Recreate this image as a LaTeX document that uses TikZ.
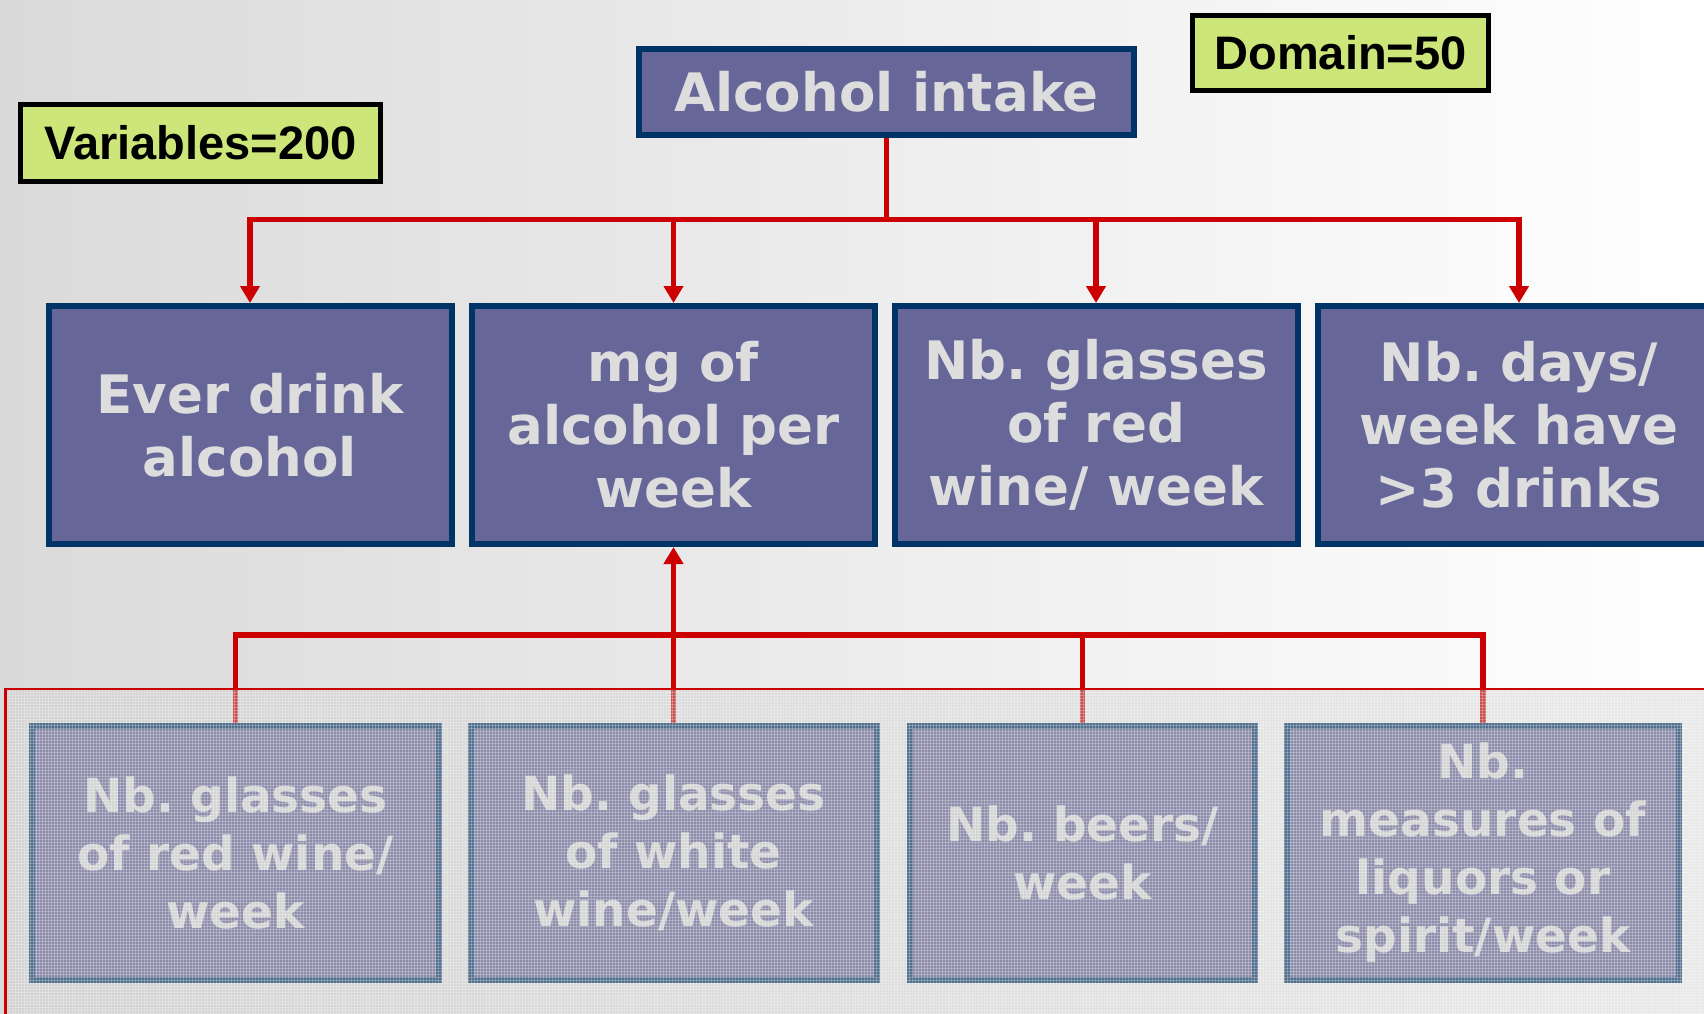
\documentclass[tikz,border=0pt]{standalone}
\usepackage{fontspec}
\setmainfont{DejaVu Sans}
\newfontfamily\arialfont{Liberation Sans}
\usetikzlibrary{arrows.meta,patterns}
\frenchspacing
\definecolor{boxfill}{HTML}{666699}
\definecolor{boxline}{HTML}{003366}
\definecolor{boxtext}{HTML}{DDDDDD}
\definecolor{connred}{HTML}{CC0000}
\definecolor{tagfill}{HTML}{CCE67A}
\definecolor{bgleft}{HTML}{DADADA}
\definecolor{veil}{HTML}{C8C8C8}
\begin{document}
\begin{tikzpicture}[x=1pt,y=-1pt,
  box/.style={draw=boxline, line width=6pt, fill=boxfill, text=boxtext,
    font=\bfseries\fontsize{53}{63}\selectfont, align=center, inner sep=0pt},
  lowbox/.style={box, font=\bfseries\fontsize{47}{58}\selectfont, minimum height=254pt},
  midbox/.style={box, minimum width=403pt, minimum height=238pt},
  tag/.style={draw=black, line width=5pt, fill=tagfill, text=black,
    font=\arialfont\bfseries\fontsize{47}{56}\selectfont, inner sep=0pt},
  conn/.style={draw=connred, line width=5.5pt, line join=miter},
  arr/.style={conn, -{Triangle[width=19pt,length=17pt]}}
]
\useasboundingbox (0,0) rectangle (1704,1013);
\clip (0,0) rectangle (1704,1013);
\shade[left color=bgleft, right color=white] (0,0) rectangle (1704,1013);

% tags
\node[tag, minimum width=360pt, minimum height=77pt] (vars) at (200.5,143) {Variables=200};
\node[tag, minimum width=296pt, minimum height=75pt] (dom) at (1340.5,53) {Domain=50};

% top
\node[box, minimum width=495pt, minimum height=86pt] (top) at (886.5,92) {Alcohol intake};

% middle row
\node[midbox] (m1) at (250,425) {Ever drink\\alcohol};
\node[midbox] (m2) at (673.5,425) {mg of\\alcohol per\\week};
\node[midbox] (m3) at (1096,425) {Nb. glasses\\of red\\wine/ week};
\node[midbox] (m4) at (1519,425) {Nb. days/\\week have\\>3 drinks};

% bottom row
\node[lowbox, minimum width=407pt] (b1) at (235.5,852.5) {Nb. glasses\\of red wine/\\week};
\node[lowbox, minimum width=406pt] (b2) at (673.5,852.5) {Nb. glasses\\of white\\wine/week};
\node[lowbox, minimum width=345pt] (b3) at (1082.5,852.5) {Nb. beers/\\week};
\node[lowbox, minimum width=392pt] (b4) at (1483,852.5) {Nb.\\measures of\\liquors or\\spirit/week};

% top connectors
\coordinate (busT) at (886.5,219.5);
\draw[conn] (top.south) -- (busT);
\draw[arr] (busT) -| (m1.north);
\draw[arr] (busT) -| (m2.north);
\draw[arr] (busT) -| (m3.north);
\draw[arr] (busT) -| (m4.north);

% bottom connectors
\coordinate (busB) at (673.5,635);
\draw[conn] (b1.north) |- (busB);
\draw[conn] (b3.north) |- (busB);
\draw[conn] (b4.north) |- (busB);
\draw[arr] (b2.north) -- (m2.south);

% faded overlay on the lower area
\fill[veil, opacity=0.4] (5.5,689) rectangle (1720,1030);
\fill[pattern=grid, pattern color=white, opacity=0.25] (5.5,689) rectangle (1720,1030);
\draw[connred, line width=2.5pt] (5.5,1030) -- (5.5,689) -- (1720,689);
\end{tikzpicture}
\end{document}
